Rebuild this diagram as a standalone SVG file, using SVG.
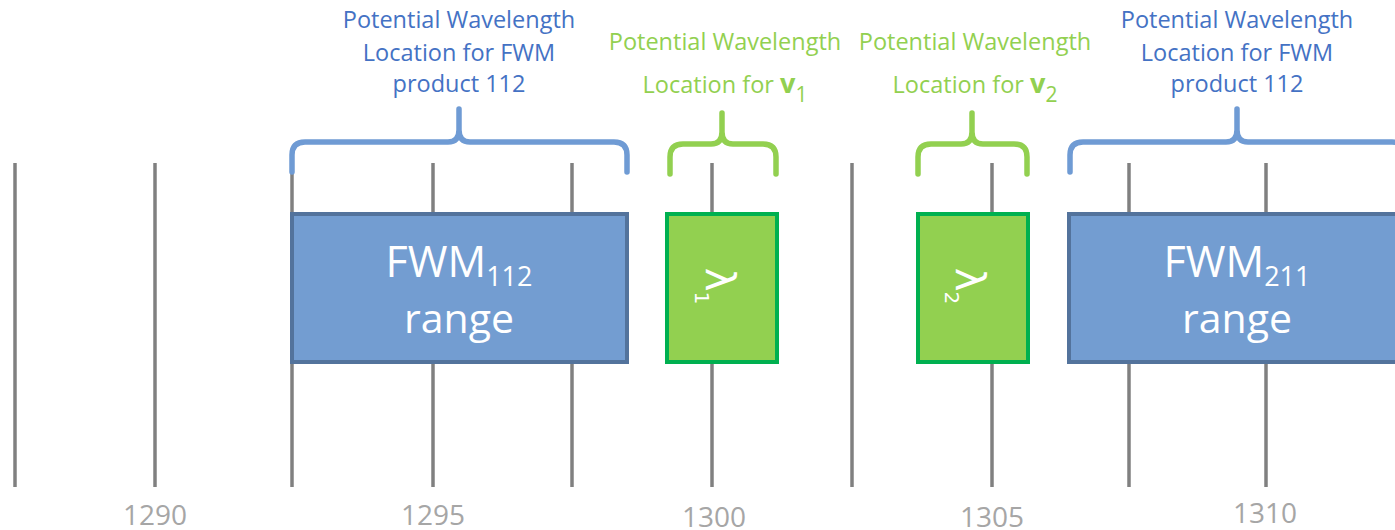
<svg xmlns="http://www.w3.org/2000/svg" width="1395" height="530" viewBox="0 0 1395 530">
<style>
.tick{stroke:#808080;stroke-width:3.5}
.num{font-family:"Open Sans","Liberation Sans",sans-serif;font-size:28px;fill:#a6a6a6;text-anchor:middle}
.fwm{fill:#739dd1;stroke:#53739c;stroke-width:4}
.lam{fill:#92d050;stroke:#00b050;stroke-width:4}
.bt{font-family:"Open Sans","Liberation Sans",sans-serif;fill:#fff;text-anchor:middle}
.lt{font-family:"DejaVu Sans","Open Sans",sans-serif;fill:#fff;text-anchor:middle}
.bl{font-family:"Open Sans","Liberation Sans",sans-serif;font-size:23.5px;fill:#4472c4;text-anchor:middle}
.gl{font-family:"Open Sans","Liberation Sans",sans-serif;font-size:23.5px;fill:#92d050;text-anchor:middle}
.bb{fill:none;stroke:#6f9bd4;stroke-width:5.5;stroke-linecap:round;stroke-linejoin:round}
.gb{fill:none;stroke:#92d050;stroke-width:5.5;stroke-linecap:round;stroke-linejoin:round}
</style>
<rect width="1395" height="530" fill="#fff"/>
<g id="axis">
<line class="tick" x1="15" y1="163" x2="15" y2="487"/>
<line class="tick" x1="155" y1="163" x2="155" y2="487"/>
<line class="tick" x1="292" y1="163" x2="292" y2="487"/>
<line class="tick" x1="433" y1="163" x2="433" y2="487"/>
<line class="tick" x1="572" y1="163" x2="572" y2="487"/>
<line class="tick" x1="712" y1="163" x2="712" y2="487"/>
<line class="tick" x1="852" y1="163" x2="852" y2="487"/>
<line class="tick" x1="992" y1="163" x2="992" y2="487"/>
<line class="tick" x1="1129" y1="163" x2="1129" y2="487"/>
<line class="tick" x1="1266" y1="163" x2="1266" y2="487"/>
<text class="num" x="155" y="525">1290</text>
<text class="num" x="433" y="525">1295</text>
<text class="num" x="714" y="527">1300</text>
<text class="num" x="992" y="527">1305</text>
<text class="num" x="1265" y="523">1310</text>
</g>
<g id="fwm112">
<rect class="fwm" x="292" y="214" width="335" height="148"/>
<text class="bt" x="459" y="277" font-size="43">FWM<tspan font-size="27" dy="9">112</tspan></text>
<text class="bt" x="459" y="333" font-size="41">range</text>
</g>
<g id="lambda1">
<rect class="lam" x="667" y="214" width="110" height="148"/>
<text class="lt" font-size="40" transform="translate(706,286) rotate(90)">λ<tspan font-size="20" dy="11">1</tspan></text>
</g>
<g id="lambda2">
<rect class="lam" x="918" y="214" width="110" height="148"/>
<text class="lt" font-size="40" transform="translate(956,286) rotate(90)">λ<tspan font-size="20" dy="11">2</tspan></text>
</g>
<g id="fwm211">
<rect class="fwm" x="1069" y="214" width="340" height="148"/>
<text class="bt" x="1237" y="277" font-size="43">FWM<tspan font-size="27" dy="9">211</tspan></text>
<text class="bt" x="1237" y="333" font-size="41">range</text>
</g>
<g id="brace112">
<path class="bb" d="M292,172 V155 Q292,142 305,142 H448 Q459,142 459,130 V109 M627,172 V155 Q627,142 614,142 H470 Q459,142 459,130"/>
<text class="bl" x="459" y="28">Potential Wavelength</text>
<text class="bl" x="459" y="61">Location for FWM</text>
<text class="bl" x="459" y="92">product 112</text>
</g>
<g id="bracev1">
<path class="gb" d="M670,174 V157 Q670,144 683,144 H711 Q722,144 722,132 V113 M776,174 V157 Q776,144 763,144 H733 Q722,144 722,132"/>
<text class="gl" x="725" y="50">Potential Wavelength</text>
<text class="gl" x="725" y="93">Location for <tspan font-weight="bold" font-size="27">v</tspan><tspan font-size="21" dy="9">1</tspan></text>
</g>
<g id="bracev2">
<path class="gb" d="M918,174 V157 Q918,144 931,144 H961 Q972,144 972,132 V113 M1027,174 V157 Q1027,144 1014,144 H983 Q972,144 972,132"/>
<text class="gl" x="975" y="50">Potential Wavelength</text>
<text class="gl" x="975" y="93">Location for <tspan font-weight="bold" font-size="27">v</tspan><tspan font-size="21" dy="9">2</tspan></text>
</g>
<g id="brace112b">
<path class="bb" d="M1070,172 V155 Q1070,142 1083,142 H1226 Q1237,142 1237,130 V109 M1405,172 V155 Q1405,142 1392,142 H1248 Q1237,142 1237,130"/>
<text class="bl" x="1237" y="28">Potential Wavelength</text>
<text class="bl" x="1237" y="61">Location for FWM</text>
<text class="bl" x="1237" y="92">product 112</text>
</g>
</svg>
